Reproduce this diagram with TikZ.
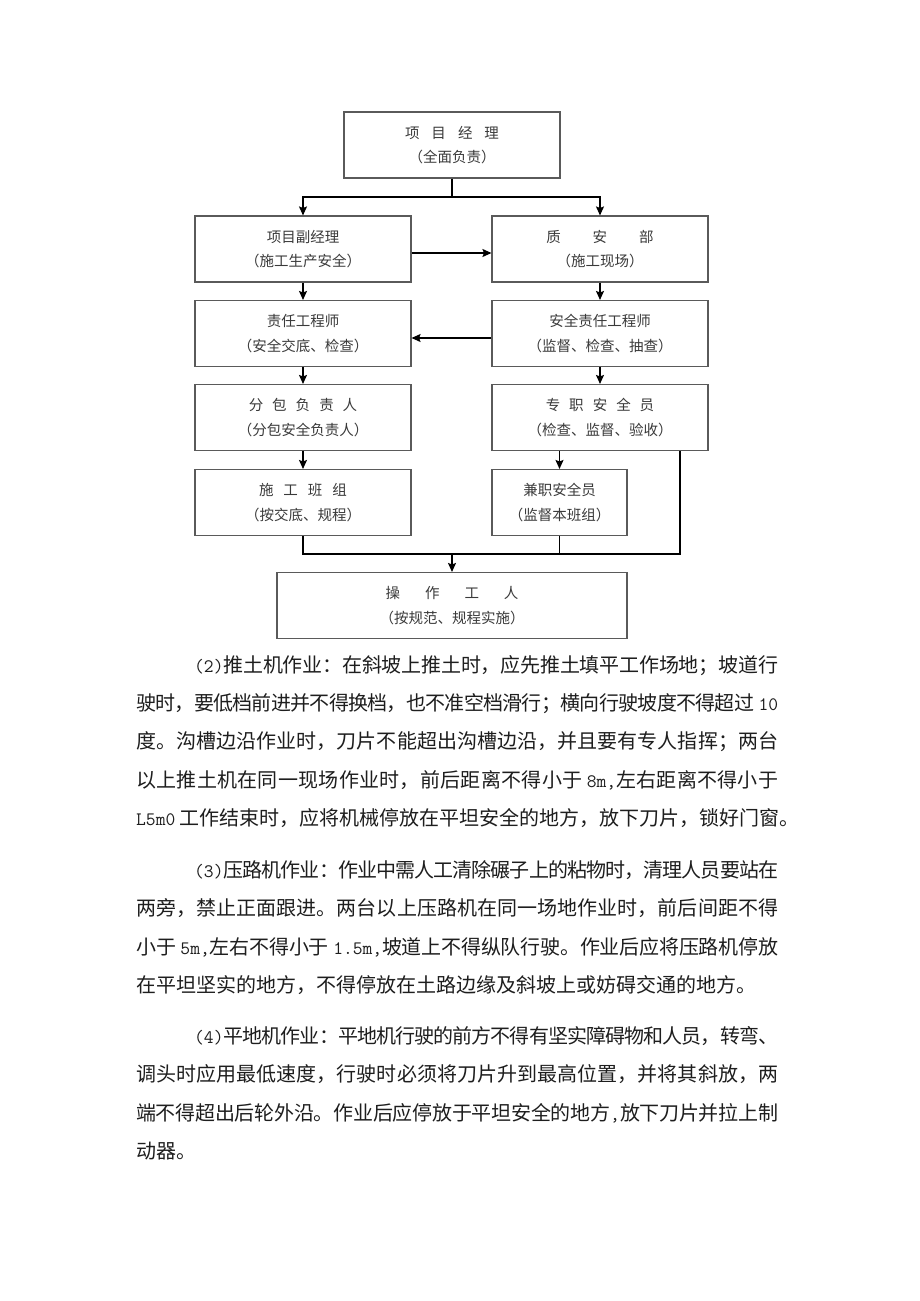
\documentclass[tikz,border=0pt]{standalone}
\usepackage{fontspec}
\setmainfont{Noto Sans CJK SC}
\usetikzlibrary{arrows.meta}
% character classes for justified CJK lines
\newcount\cjkc
\cjkc="4E00
\loop \XeTeXcharclass\cjkc=1 \advance\cjkc by 1 \ifnum\cjkc<"A000 \repeat
\cjkc="3000
\loop \XeTeXcharclass\cjkc=1 \advance\cjkc by 1 \ifnum\cjkc<"3040 \repeat
\cjkc="FF00
\loop \XeTeXcharclass\cjkc=1 \advance\cjkc by 1 \ifnum\cjkc<"FFF0 \repeat
\XeTeXinterchartoks 1 1 = {\hskip 0pt plus 1fil minus 1fil\relax}
\XeTeXinterchartoks 0 1 = {\hskip 0pt plus 1fil minus 1fil\relax}
\XeTeXinterchartoks 1 0 = {\hskip 0pt plus 1fil minus 1fil\relax}
\newcommand\latn[1]{{\ttfamily\fontsize{19}{19}\selectfont #1}}
\newcommand\bodyfont{\fontsize{20}{20}\selectfont}
\newcommand\jfull[2]{\node[bodyline] at (136,#1) {\makebox[642pt][s]{\XeTeXinterchartokenstate=1 #2}};}
\newcommand\jind[2]{\node[bodyline] at (194,#1) {\makebox[584pt][s]{\XeTeXinterchartokenstate=1 #2}};}
\newcommand\jlast[2]{\node[bodyline] at (136,#1) {#2};}
\definecolor{boxline}{HTML}{5A5A5A}
\definecolor{boxtext}{HTML}{3A3A3A}
\definecolor{bodytext}{HTML}{1E1E1E}
\begin{document}
\begin{tikzpicture}[x=1pt,y=-1pt,
  box/.style={draw=boxline, line width=1.1pt, fill=white, minimum width=216pt,
    minimum height=66pt, inner sep=0pt, align=center, text=boxtext,
    font=\fontsize{14.5}{24.5}\selectfont},
  ln/.style={line width=1.4pt, draw=black},
  arr/.style={ln, -{Stealth[length=9pt,width=8pt,inset=1.5pt]}},
  bodyline/.style={anchor=base west, inner sep=0pt, text=bodytext, font=\bodyfont}]
\path[use as bounding box, fill=white] (0,0) rectangle (920,1301);

% ---------- organisation chart ----------
\node[box] (pm) at (452,145) {项\hspace{12pt}目\hspace{12pt}经\hspace{12pt}理\\（全面负责）};
\node[box] (dpm) at (303,249) {项目副经理\\（施工生产安全）};
\node[box] (qs) at (600,249) {质\hspace{32pt}安\hspace{32pt}部\\（施工现场）};
\node[box] (re) at (303,333.5) {责任工程师\\（安全交底、检查）};
\node[box] (se) at (600,333.5) {安全责任工程师\\（监督、检查、抽查）};
\node[box] (sub) at (303,417.5) {分\hspace{9pt}包\hspace{9pt}负\hspace{9pt}责\hspace{9pt}人\\（分包安全负责人）};
\node[box] (fs) at (600,417.5) {专\hspace{9pt}职\hspace{9pt}安\hspace{9pt}全\hspace{9pt}员\\（检查、监督、验收）};
\node[box] (team) at (303,502.5) {施\hspace{10pt}工\hspace{10pt}班\hspace{10pt}组\\（按交底、规程）};
\node[box, minimum width=135pt] (ps) at (559.5,502.5) {兼职安全员\\（监督本班组）};
\node[box, minimum width=350pt] (wk) at (452,605.5) {操\hspace{25pt}作\hspace{25pt}工\hspace{25pt}人\\（按规范、规程实施）};

\coordinate (split) at (452,197);
\coordinate (m) at (452,554);
\coordinate (mr) at (680,554);
\draw[ln] (pm.south) -- (split);
\draw[arr] (split) -| (dpm.north);
\draw[arr] (split) -| (qs.north);
\draw[arr] ([yshift=-4pt]dpm.east) -- ([yshift=-4pt]qs.west);
\draw[arr] (dpm.south) -- (re.north);
\draw[arr] (qs.south) -- (se.north);
\draw[arr] ([yshift=-4.5pt]se.west) -- ([yshift=-4.5pt]re.east);
\draw[arr] (re.south) -- (sub.north);
\draw[arr] (se.south) -- (fs.north);
\draw[arr] (sub.south) -- (team.north);
\draw[arr] (fs.south -| ps.north) -- (ps.north);
\draw[ln] (team.south) |- (mr) -- (fs.south -| mr);
\draw[ln] (ps.south) -- (ps.south |- mr);
\draw[arr] (m) -- (wk.north);

% ---------- body text ----------
\jind{672.5}{\latn{(2)}推土机作业：在斜坡上推土时，应先推土填平工作场地；坡道行}
\jfull{710.7}{驶时，要低档前进并不得换档，也不准空档滑行；横向行驶坡度不得超过 \latn{10}}
\jfull{748.9}{度。沟槽边沿作业时，刀片不能超出沟槽边沿，并且要有专人指挥；两台}
\jfull{787.1}{以上推土机在同一现场作业时，前后距离不得小于 \latn{8m,}左右距离不得小于}
\jlast{825.3}{\latn{L5m0} 工作结束时，应将机械停放在平坦安全的地方，放下刀片，锁好门窗。}

\jind{877.5}{\latn{(3)}压路机作业：作业中需人工清除碾子上的粘物时，清理人员要站在}
\jfull{915.8}{两旁，禁止正面跟进。两台以上压路机在同一场地作业时，前后间距不得}
\jfull{954.1}{小于 \latn{5m,}左右不得小于 \latn{1.5m,}坡道上不得纵队行驶。作业后应将压路机停放}
\jlast{992.4}{在平坦坚实的地方，不得停放在土路边缘及斜坡上或妨碍交通的地方。}

\jind{1043.5}{\latn{(4)}平地机作业：平地机行驶的前方不得有坚实障碍物和人员，转弯、}
\jfull{1081.8}{调头时应用最低速度，行驶时必须将刀片升到最高位置，并将其斜放，两}
\jfull{1120.1}{端不得超出后轮外沿。作业后应停放于平坦安全的地方\latn{,}放下刀片并拉上制}
\jlast{1158.4}{动器。}
\end{tikzpicture}
\end{document}
